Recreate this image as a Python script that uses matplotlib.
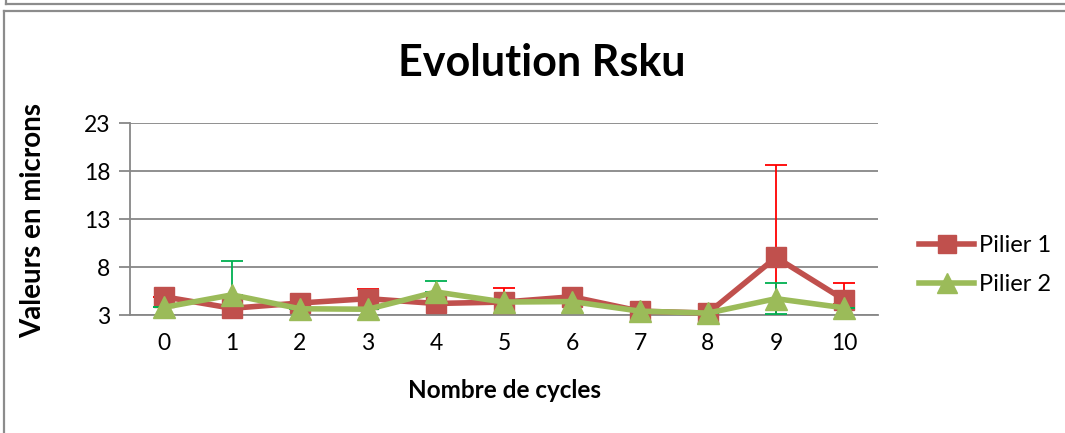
import matplotlib
matplotlib.use("Agg")
import matplotlib.pyplot as plt
from matplotlib.lines import Line2D

plt.rcParams['font.family'] = ['Lato', 'DejaVu Sans']

# Data
cycles = ["0", "1", "2", "3", "4", "5", "6", "7", "8", "9", "10"]
pilier1 = [4.9, 3.7, 4.25, 4.7, 4.2, 4.35, 4.9, 3.4, 3.2, 9.0, 4.6]
pilier1_err_up = [0.0, 0.0, 0.0, 1.0, 0.0, 1.45, 0.0, 0.0, 0.0, 9.6, 1.7]
pilier1_err_down = [0.0, 0.0, 0.0, 0.0, 0.0, 1.25, 0.0, 0.0, 0.0, 9.6, 0.5]
pilier2 = [3.8, 5.1, 3.65, 3.6, 5.4, 4.35, 4.4, 3.4, 3.2, 4.7, 3.75]
pilier2_err_up = [0.0, 3.5, 0.0, 0.0, 1.1, 0.0, 0.0, 0.0, 0.0, 1.65, 0.0]
pilier2_err_down = [0.0, 0.0, 0.0, 0.0, 0.0, 0.0, 0.0, 0.0, 0.0, 1.6, 0.0]
yticks = [3, 8, 13, 18, 23]

W, H = 1065, 433
fig = plt.figure(figsize=(W / 100, H / 100), dpi=100)

# Frames around the chart area
frame = "#8c8c8c"
fig.add_artist(Line2D([6 / W, 1], [1 - 4 / H, 1 - 4 / H], color=frame, lw=1.6))
fig.add_artist(Line2D([6 / W, 6 / W], [1, 1 - 4 / H], color=frame, lw=1.6))
fig.add_artist(Line2D([4 / W, 1], [1 - 11 / H, 1 - 11 / H], color=frame, lw=1.6))
fig.add_artist(Line2D([4 / W, 4 / W], [0, 1 - 11 / H], color=frame, lw=1.6))

ax = fig.add_axes([130 / W, 118 / H, (878 - 130) / W, (315 - 123) / H])

x = list(range(len(cycles)))
red = "#C0504D"
green = "#9BBB59"

# Error bars sit just beneath their own series' markers
ax.errorbar(x, pilier1, yerr=[pilier1_err_down, pilier1_err_up], fmt="none",
            ecolor="#FF0000", elinewidth=1.3, capsize=8, capthick=1.3, zorder=2.5)
ax.plot(x, pilier1, color=red, lw=4, marker="s", markersize=14,
        zorder=3, clip_on=False)
ax.errorbar(x, pilier2, yerr=[pilier2_err_down, pilier2_err_up], fmt="none",
            ecolor="#00B050", elinewidth=1.3, capsize=8, capthick=1.3, zorder=4.5)
ax.plot(x, pilier2, color=green, lw=4, marker="^", markersize=16,
        zorder=5, clip_on=False)

ax.set_xlim(-0.5, len(cycles) - 0.5)
ax.set_ylim(3, 23)
ax.set_yticks(yticks)
ax.set_yticklabels([str(v) for v in yticks])
ax.set_xticks(x)
ax.set_xticklabels(cycles)
ax.yaxis.grid(True, color="#878787", lw=1.3)
ax.set_axisbelow(True)
for side in ("top", "right"):
    ax.spines[side].set_visible(False)
for side in ("left", "bottom"):
    ax.spines[side].set_color("#878787")
    ax.spines[side].set_linewidth(1.3)
ax.tick_params(axis="y", length=8, width=1.3, color="#878787", labelsize=16.5, pad=6)
ax.tick_params(axis="x", length=0, labelsize=16.5, pad=13)

fig.text(542 / W, 1 - 63 / H, "Evolution Rsku", ha="center", va="center",
         fontsize=31, fontweight="bold")
fig.text(505 / W, 1 - 390 / H, "Nombre de cycles", ha="center", va="center",
         fontsize=17.5, fontweight="bold")
fig.text(33 / W, 1 - 220 / H, "Valeurs en microns", ha="center", va="center",
         rotation=90, fontsize=20, fontweight="bold")

h1 = Line2D([], [], color=red, lw=4, marker="s", markersize=13)
h2 = Line2D([], [], color=green, lw=4, marker="^", markersize=14)
fig.legend([h1, h2], ["Pilier 1", "Pilier 2"], loc="center left",
           bbox_to_anchor=(919 / W, 1 - 265 / H), frameon=False,
           borderpad=0, borderaxespad=0,
           fontsize=17, handlelength=2.35, handletextpad=0.2, labelspacing=0.75)

fig.savefig("out.png", dpi=100)
